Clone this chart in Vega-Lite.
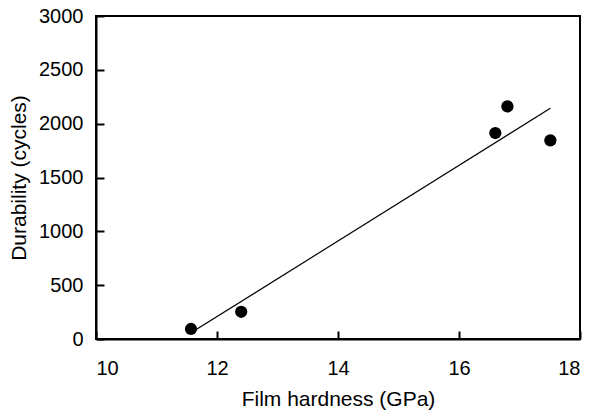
{
  "$schema": "https://vega.github.io/schema/vega-lite/v6.json",
  "autosize": "none",
  "width": 484,
  "height": 323,
  "padding": {"left": 96, "top": 16, "right": 9, "bottom": 73},
  "background": "white",
  "config": {
    "view": {"stroke": "black", "strokeWidth": 2},
    "font": "Liberation Sans",
    "axis": {
      "grid": false,
      "domainColor": "black",
      "domainWidth": 2,
      "labelColor": "black",
      "titleColor": "black",
      "labelFont": "Liberation Sans",
      "titleFont": "Liberation Sans",
      "labelFontSize": 20,
      "titleFontSize": 21,
      "titleFontWeight": "normal",
      "format": "d"
    }
  },
  "datasets": {
    "points": [
      {"hardness": 11.57, "durability": 93},
      {"hardness": 12.40, "durability": 253},
      {"hardness": 16.60, "durability": 1913},
      {"hardness": 16.80, "durability": 2160},
      {"hardness": 17.51, "durability": 1845}
    ],
    "fit": [
      {"hardness": 11.57, "durability": 57},
      {"hardness": 17.51, "durability": 2143}
    ]
  },
  "layer": [
    {
      "data": {"name": "fit"},
      "mark": {"type": "line", "color": "black", "strokeWidth": 1.2},
      "encoding": {
        "x": {"field": "hardness", "type": "quantitative"},
        "y": {"field": "durability", "type": "quantitative"}
      }
    },
    {
      "data": {"name": "points"},
      "mark": {"type": "circle", "color": "black", "opacity": 1, "size": 150},
      "encoding": {
        "x": {
          "field": "hardness",
          "type": "quantitative",
          "scale": {"domain": [10, 18], "nice": false, "zero": false},
          "axis": {"title": "Film hardness (GPa)", "values": [10, 12, 14, 16, 18], "ticks": true, "tickColor": "black", "tickWidth": 2, "tickSize": -8, "labelPadding": 27, "titlePadding": 10}
        },
        "y": {
          "field": "durability",
          "type": "quantitative",
          "scale": {"domain": [0, 3000], "nice": false},
          "axis": {"title": "Durability (cycles)", "values": [0, 500, 1000, 1500, 2000, 2500, 3000], "ticks": true, "tickColor": "black", "tickWidth": 2, "tickSize": -8, "labelPadding": 21, "titlePadding": 9}
        }
      }
    }
  ]
}
